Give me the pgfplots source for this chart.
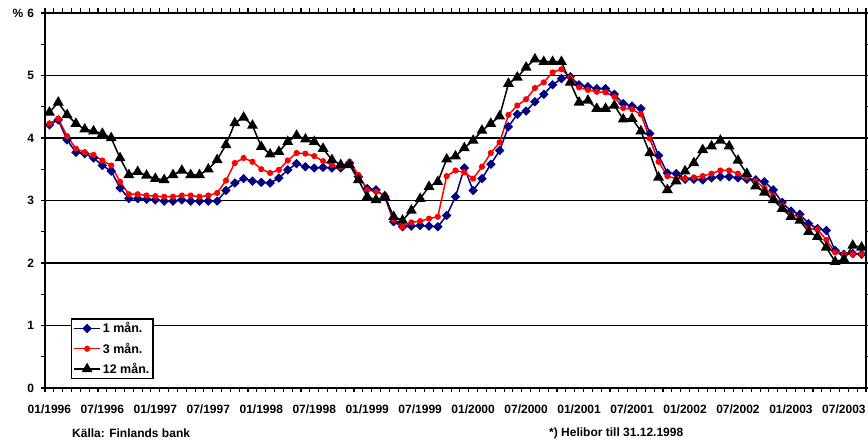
\documentclass[border=0pt]{standalone}
\usepackage{pgfplots}
\pgfplotsset{compat=1.18}
\usepackage{pgfplotstable}
\usepackage{fontspec}
\setmainfont{Liberation Sans}
\definecolor{navy}{RGB}{0,0,128}
\pgfplotstableread{
i m1 m3 m12
0 4.21 4.23 4.41
1 4.29 4.31 4.57
2 3.97 4.03 4.37
3 3.77 3.83 4.23
4 3.75 3.77 4.14
5 3.68 3.73 4.11
6 3.56 3.64 4.07
7 3.47 3.56 4.00
8 3.20 3.30 3.68
9 3.03 3.10 3.41
10 3.03 3.10 3.46
11 3.02 3.08 3.40
12 3.01 3.07 3.35
13 2.99 3.06 3.33
14 2.99 3.06 3.41
15 3.01 3.08 3.48
16 2.99 3.08 3.41
17 2.99 3.06 3.41
18 2.99 3.08 3.50
19 2.99 3.12 3.65
20 3.16 3.32 3.89
21 3.28 3.60 4.24
22 3.35 3.68 4.33
23 3.31 3.62 4.20
24 3.29 3.50 3.86
25 3.28 3.44 3.74
26 3.36 3.49 3.78
27 3.49 3.64 3.94
28 3.59 3.76 4.04
29 3.54 3.75 3.98
30 3.52 3.71 3.94
31 3.53 3.63 3.83
32 3.52 3.57 3.65
33 3.52 3.54 3.57
34 3.60 3.62 3.57
35 3.38 3.41 3.33
36 3.19 3.17 3.06
37 3.17 3.14 3.01
38 3.06 3.09 3.06
39 2.66 2.69 2.74
40 2.58 2.58 2.68
41 2.59 2.65 2.84
42 2.60 2.67 3.03
43 2.59 2.71 3.22
44 2.58 2.74 3.30
45 2.76 3.39 3.66
46 3.06 3.48 3.71
47 3.52 3.45 3.84
48 3.16 3.35 3.96
49 3.35 3.54 4.12
50 3.58 3.76 4.23
51 3.80 3.93 4.35
52 4.18 4.37 4.87
53 4.38 4.52 4.97
54 4.43 4.62 5.13
55 4.58 4.80 5.26
56 4.70 4.89 5.22
57 4.85 5.05 5.22
58 4.95 5.10 5.22
59 4.98 4.97 4.89
60 4.85 4.81 4.57
61 4.82 4.77 4.60
62 4.79 4.74 4.47
63 4.79 4.73 4.47
64 4.70 4.66 4.52
65 4.55 4.48 4.30
66 4.51 4.46 4.31
67 4.47 4.38 4.11
68 4.07 3.99 3.76
69 3.72 3.62 3.37
70 3.44 3.39 3.17
71 3.43 3.35 3.31
72 3.34 3.35 3.47
73 3.34 3.37 3.60
74 3.33 3.39 3.81
75 3.36 3.43 3.87
76 3.38 3.48 3.96
77 3.38 3.48 3.87
78 3.36 3.43 3.64
79 3.34 3.37 3.43
80 3.33 3.31 3.23
81 3.30 3.20 3.13
82 3.17 3.08 3.01
83 2.97 2.92 2.87
84 2.83 2.78 2.74
85 2.78 2.73 2.68
86 2.63 2.55 2.50
87 2.55 2.54 2.42
88 2.52 2.37 2.25
89 2.20 2.17 2.02
90 2.14 2.14 2.06
91 2.15 2.14 2.28
92 2.14 2.14 2.25
}\rates

\begin{document}
\begin{tikzpicture}
\useasboundingbox (0,0) rectangle (868pt,443pt);
\begin{axis}[
  at={(45pt,55pt)}, anchor=south west,
  scale only axis, width=821pt, height=375pt,
  xmin=-0.5, xmax=92.5, ymin=0, ymax=6,
  clip=false,
  axis line style={line width=1.5pt},
  ytick={0,1,2,3,4,5,6},
  yticklabels={0,1,2,3,4,5,{\%\hspace{4pt}6}},
  minor ytick={0.5,1.5,2.5,3.5,4.5,5.5},
  ymajorgrids,
  grid style={black, line width=1.2pt},
  xtick={-0.5,0.5,...,92.5}, xticklabels={},
  extra x ticks={0,6,...,90},
  extra x tick labels={01/1996,07/1996,01/1997,07/1997,01/1998,07/1998,01/1999,07/1999,01/2000,07/2000,01/2001,07/2001,01/2002,07/2002,01/2003,07/2003},
  extra x tick style={tick style={draw=none}},
  tick align=outside, major tick length=4.5pt, minor tick length=4pt,
  tick style={black, line width=1.1pt},
  ticklabel style={font=\bfseries\fontsize{12}{14}\selectfont},
  xticklabel style={yshift=-9pt},
  yticklabel style={xshift=-3pt},
  legend style={at={(0.032,0.024)}, anchor=south west, draw=black, line width=1.2pt,
    fill=white, font=\bfseries\fontsize{12.5}{14}\selectfont, row sep=4.5pt, inner sep=1.5pt,
    cells={anchor=west}},
  legend image code/.code={\draw[mark repeat=2,mark phase=2] plot coordinates {(0pt,0pt) (13pt,0pt) (26pt,0pt)};},
]
\addplot[navy, line width=1.5pt, mark=square*, mark size=2.6pt, mark options={rotate=45, solid}] table[x=i,y=m1]{\rates};
\addplot[red, line width=1.5pt, mark=*, mark size=2.3pt, mark options={solid}] table[x=i,y=m3]{\rates};
\addplot[black, line width=1.5pt, mark=triangle*, mark size=4.8pt, mark options={solid}] table[x=i,y=m12]{\rates};
\legend{1 mån.,3 mån.,12 mån.}
\end{axis}
\node[anchor=west, font=\bfseries\fontsize{12}{14}\selectfont, inner sep=0pt] at (72pt,10pt) {Källa: Finlands bank};
\node[anchor=west, font=\bfseries\fontsize{12}{14}\selectfont, inner sep=0pt] at (549pt,10pt) {*) Helibor till 31.12.1998};
\end{tikzpicture}
\end{document}
